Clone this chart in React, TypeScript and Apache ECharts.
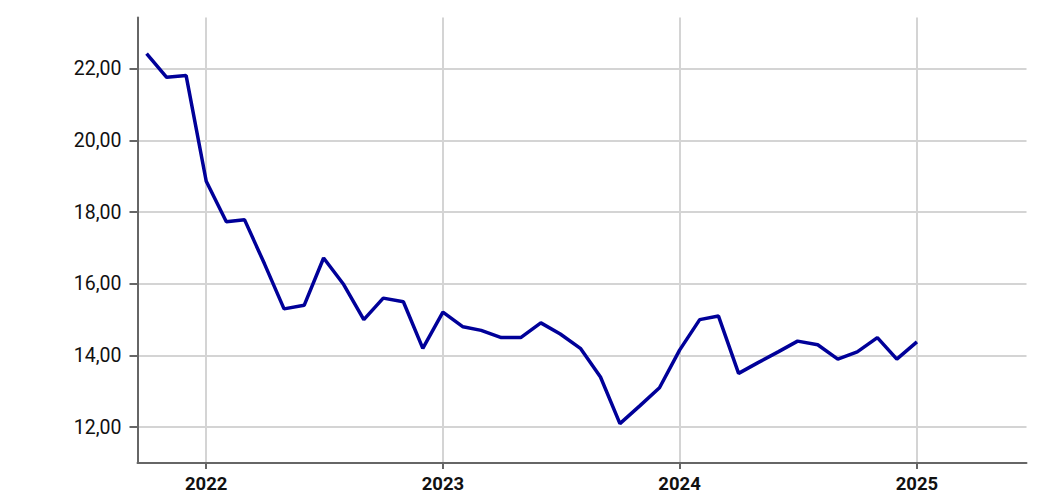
import React, { useEffect, useRef } from "react";
import * as echarts from "echarts";

const months: string[] = [
  "2021-10-01", "2021-11-01", "2021-12-01",
  "2022-01-01", "2022-02-01", "2022-03-01", "2022-04-01", "2022-05-01", "2022-06-01",
  "2022-07-01", "2022-08-01", "2022-09-01", "2022-10-01", "2022-11-01", "2022-12-01",
  "2023-01-01", "2023-02-01", "2023-03-01", "2023-04-01", "2023-05-01", "2023-06-01",
  "2023-07-01", "2023-08-01", "2023-09-01", "2023-10-01", "2023-11-01", "2023-12-01",
  "2024-01-01", "2024-02-01", "2024-03-01", "2024-04-01", "2024-05-01", "2024-06-01",
  "2024-07-01", "2024-08-01", "2024-09-01", "2024-10-01", "2024-11-01", "2024-12-01",
  "2025-01-01",
];

const values: number[] = [
  22.42, 21.76, 21.81,
  18.86, 17.73, 17.79, 16.55, 15.3, 15.4,
  16.72, 15.98, 15.0, 15.6, 15.5, 14.2,
  15.21, 14.8, 14.7, 14.5, 14.5, 14.91,
  14.6, 14.2, 13.4, 12.1, 12.6, 13.1,
  14.15, 15.0, 15.1, 13.5, 13.8, 14.1,
  14.4, 14.3, 13.9, 14.1, 14.5, 13.9,
  14.38,
];

const yTicks: number[] = [12, 14, 16, 18, 20, 22];
const xYearTicks: string[] = ["2022-01-01", "2023-01-01", "2024-01-01", "2025-01-01"];

const xMin = "2021-09-17";
const xMax = "2025-06-19";
const yMin = 11;
const yMax = 23.43;

const ts = (d: string) => Date.UTC(+d.slice(0, 4), +d.slice(5, 7) - 1, +d.slice(8, 10));

export default function App() {
  const ref = useRef<HTMLDivElement>(null);

  useEffect(() => {
    if (!ref.current) return;
    const chart = echarts.init(ref.current, undefined, { renderer: "svg" });
    const yearTs = xYearTicks.map(ts);
    chart.setOption({
      animation: false,
      grid: { left: 137.5, right: 25.5, top: 17.5, bottom: 32, containLabel: false },
      xAxis: {
        type: "value",
        min: ts(xMin),
        max: ts(xMax),
        axisLine: { show: true, lineStyle: { color: "#666666", width: 2 } },
        axisTick: { show: true, length: 6, customValues: yearTs, lineStyle: { color: "#666666", width: 2 } },
        axisLabel: {
          customValues: yearTs,
          margin: 13,
          fontFamily: "Roboto",
          fontSize: 18.5,
          lineHeight: 15,
          fontWeight: "bold",
          color: "#111111",
          formatter: (v: number) => String(new Date(v).getUTCFullYear()),
        },
        splitLine: { show: true, lineStyle: { color: "#d4d4d4", width: 2 } },
      },
      yAxis: {
        type: "value",
        min: yMin,
        max: yMax,
        axisLine: { show: true, lineStyle: { color: "#666666", width: 2 } },
        axisTick: { show: true, length: 8, customValues: yTicks, lineStyle: { color: "#666666", width: 2 } },
        axisLabel: {
          customValues: yTicks,
          margin: 16,
          fontFamily: "Roboto",
          fontSize: 19.5,
          color: "#111111",
          formatter: (v: number) => v.toFixed(2).replace(".", ","),
        },
        splitLine: { show: true, lineStyle: { color: "#d4d4d4", width: 2 } },
      },
      series: [
        {
          type: "line",
          data: months.map((m, i) => [ts(m), values[i]]),
          showSymbol: false,
          symbol: "none",
          lineStyle: { color: "#000099", width: 3.5 },
        },
      ],
    });
    return () => chart.dispose();
  }, []);

  return (
    <div
      ref={ref}
      style={{ position: "absolute", left: 0, top: 0, width: 1052, height: 495 }}
    />
  );
}
